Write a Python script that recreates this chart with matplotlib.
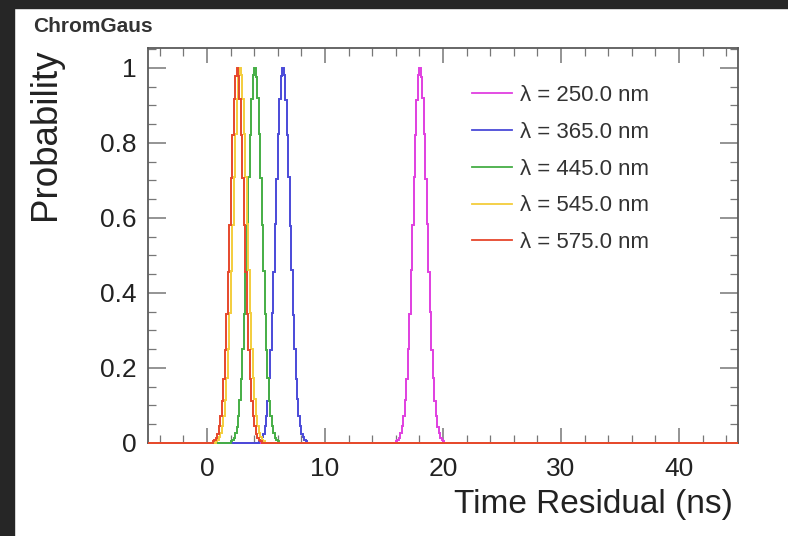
import numpy as np
import matplotlib
matplotlib.use("Agg")
import matplotlib.pyplot as plt
from matplotlib.patches import Rectangle
from matplotlib.ticker import MultipleLocator, FuncFormatter

plt.rcParams['font.family'] = ['Liberation Sans', 'DejaVu Sans']

# histogram binning (ns)
T_MIN, T_MAX, BIN_W = -5.0, 45.0, 0.125

# wavelength labels (nm)
WAVELENGTHS = [250.0, 365.0, 445.0, 545.0, 575.0]
COLORS = ["#e03fe0", "#4a4ad8", "#45ae45", "#f3cd3c", "#e6472c"]

# start of the non-empty bins for each histogram (ns), and the bin contents read off
START_250 = 16.0
VALS_250 = [0.004, 0.008, 0.014, 0.026, 0.045, 0.071, 0.115, 0.170, 0.250, 0.343, 0.460,
            0.580, 0.710, 0.820, 0.915, 0.980, 1.0, 0.975, 0.920, 0.825, 0.705, 0.585,
            0.455, 0.348, 0.247, 0.173, 0.112, 0.073, 0.043, 0.026, 0.014, 0.007, 0.004]
START_365 = 4.375
VALS_365 = [0.004, 0.007, 0.015, 0.025, 0.044, 0.073, 0.113, 0.172, 0.248, 0.346, 0.457,
            0.583, 0.705, 0.825, 0.918, 0.978, 1.0, 0.982, 0.915, 0.820, 0.710, 0.578,
            0.460, 0.342, 0.251, 0.170, 0.116, 0.071, 0.045, 0.025, 0.015, 0.008, 0.004]
START_445 = 2.0
VALS_445 = [0.004, 0.008, 0.014, 0.026, 0.043, 0.072, 0.114, 0.171, 0.251, 0.345, 0.456,
            0.582, 0.708, 0.821, 0.916, 0.981, 1.0, 0.977, 0.919, 0.823, 0.706, 0.581,
            0.459, 0.344, 0.249, 0.172, 0.113, 0.072, 0.044, 0.026, 0.014, 0.008, 0.004]
START_545 = 0.75
VALS_545 = [0.004, 0.008, 0.015, 0.026, 0.045, 0.073, 0.115, 0.173, 0.250, 0.346, 0.459,
            0.582, 0.708, 0.823, 0.918, 0.980, 1.0, 0.980, 0.918, 0.824, 0.709, 0.583,
            0.460, 0.347, 0.251, 0.174, 0.116, 0.073, 0.046, 0.027, 0.015, 0.008, 0.004]
START_575 = 0.5
VALS_575 = [0.004, 0.007, 0.014, 0.025, 0.044, 0.071, 0.113, 0.171, 0.248, 0.344, 0.457,
            0.580, 0.706, 0.821, 0.916, 0.979, 1.0, 0.978, 0.916, 0.821, 0.706, 0.580,
            0.457, 0.344, 0.248, 0.171, 0.113, 0.071, 0.044, 0.025, 0.014, 0.007, 0.004]

STARTS = [START_250, START_365, START_445, START_545, START_575]
VALUES = [VALS_250, VALS_365, VALS_445, VALS_545, VALS_575]

edges = np.arange(T_MIN, T_MAX + BIN_W / 2, BIN_W)

fig = plt.figure(figsize=(7.88, 5.36), dpi=100)
fig.patch.set_facecolor("white")
# dark backdrop strips at the left and top of the screenshot
fig.patches.append(Rectangle((0, 0), 14 / 788, 1, transform=fig.transFigure, color="#262626", zorder=-10))
fig.patches.append(Rectangle((0, 1 - 8 / 536), 1, 8 / 536, transform=fig.transFigure, color="#262626", zorder=-10))

ax = fig.add_axes([148 / 788, 93 / 536, 590 / 788, 395 / 536])

for wl, col, start, vals in zip(WAVELENGTHS, COLORS, STARTS, VALUES):
    h = np.zeros(len(edges) - 1)
    i0 = int(round((start - T_MIN) / BIN_W))
    h[i0:i0 + len(vals)] = vals
    ax.stairs(h, edges, color=col, lw=1.4, label=f"λ = {wl:.1f} nm", clip_on=False, zorder=3)

ax.set_xlim(T_MIN, T_MAX)
ax.set_ylim(0, 1.053)

for s in ax.spines.values():
    s.set_color("#5a5a5a")
    s.set_linewidth(1.3)

ax.xaxis.set_major_locator(MultipleLocator(10))
ax.xaxis.set_minor_locator(MultipleLocator(2))
ax.yaxis.set_major_locator(MultipleLocator(0.2))
ax.yaxis.set_minor_locator(MultipleLocator(0.05))
ax.yaxis.set_major_formatter(FuncFormatter(lambda v, p: f"{v:g}"))
ax.tick_params(which="both", direction="in", top=True, right=True, colors="#777777",
               labelcolor="#222222", labelsize=19)
ax.tick_params(axis="x", which="major", length=11, width=1.1, pad=10)
ax.tick_params(axis="x", which="minor", length=5.5, width=0.9)
ax.tick_params(axis="y", which="major", length=13, width=1.1, pad=8)
ax.tick_params(axis="y", which="minor", length=6, width=0.9)

fig.text(33 / 788, 1 - 32 / 536, "ChromGaus", fontsize=15, fontweight="bold",
         color="#333333", ha="left", va="baseline")
fig.text(46 / 788, 1 - 49 / 536, "Probability", fontsize=26.5, color="#222222",
         rotation=90, ha="center", va="top")
fig.text(733 / 788, 1 - 513 / 536, "Time Residual (ns)", fontsize=24, color="#222222",
         ha="right", va="baseline")

leg = ax.legend(loc="upper left", bbox_to_anchor=(472 / 788, 1 - 85 / 536),
                bbox_transform=fig.transFigure, frameon=False, fontsize=16,
                handlelength=1.8, handletextpad=0.36, labelspacing=0.71,
                borderpad=0, borderaxespad=0)
for t in leg.get_texts():
    t.set_color("#333333")
for l in leg.get_lines():
    l.set_linewidth(1.3)

fig.savefig("out.png", dpi=100)
